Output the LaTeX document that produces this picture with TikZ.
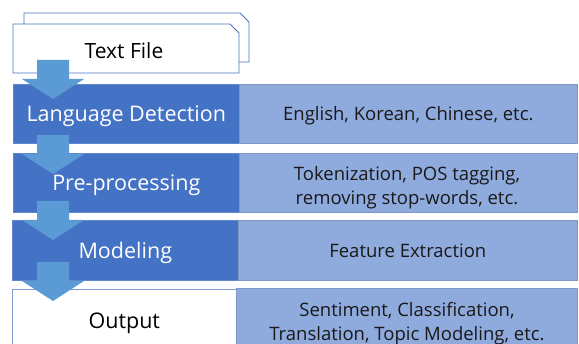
\documentclass[tikz,border=0pt]{standalone}
\usepackage{fontspec}
\setmainfont{Open Sans}
\definecolor{darkb}{HTML}{4472C4}
\definecolor{lightb}{HTML}{8FAADC}
\definecolor{lightedge}{HTML}{7E97C6}
\definecolor{arrowc}{HTML}{5B9BD5}
\definecolor{edgeb}{HTML}{4A74C0}
\tikzset{
  filebox/.style={draw=edgeb, fill=white, line width=0.9pt},
  darkbox/.style={draw=darkb!85!white, fill=darkb, line width=0.6pt, anchor=north west, inner sep=0pt, text depth=0pt, text=white, font=\fontsize{21.5}{24}\selectfont},
  whitebox/.style={draw=darkb!70!white, fill=white, line width=0.6pt, anchor=north west, inner sep=0pt, text depth=0pt, text=black, font=\fontsize{21.5}{24}\selectfont},
  lightbox/.style={draw=lightedge, fill=lightb, line width=0.6pt, anchor=north west, inner sep=0pt, text depth=0pt, text=black!90, align=center, font=\fontsize{18.5}{24}\selectfont},
  lighttext/.style={inner sep=0pt, text depth=0pt, text=black!90, align=center, font=\fontsize{18.5}{24}\selectfont},
  blockarrow/.style={fill=arrowc, draw=none},
  lbl/.style={font=\fontsize{21}{24}\selectfont, text=black}
}
\newcommand\myarrow[2]{%
  \fill[blockarrow] (#1-16,#2) -- (#1+16,#2) -- (#1+16,#2+19) -- (#1+31,#2+19) -- (#1,#2+39) -- (#1-31,#2+19) -- (#1-16,#2+19) -- cycle;}
\begin{document}
\begin{tikzpicture}[x=1pt,y=-1pt]
\useasboundingbox (0,0) rectangle (579,344);
\begin{scope}
\clip (0,0) rectangle (579,344);
% text file stack
\draw[filebox] (24,13) -- (240,13) -- (249,22) -- (249,62) -- (24,62) -- cycle;
\draw[filebox] (13,24) -- (230,24) -- (239,33) -- (239,73) -- (13,73) -- cycle;
\node[lbl] (tf) at (124,50.5) {Text File};
% rows
\node[darkbox, minimum width=226pt, minimum height=59pt] (ld) at (13,84) {Language Detection};
\node[lightbox, minimum width=338pt, minimum height=59pt] (ldr) at (239,84) {English, Korean, Chinese, etc.};
\node[darkbox, minimum width=226pt, minimum height=59pt] (pp) at (13,153) {Pre-processing};
\node[lightbox, minimum width=338pt, minimum height=59pt] (ppr) at (239,153) {};
\node[lighttext] (pprt) at (407,185) {Tokenization, POS tagging,\\removing stop-words, etc.};
\node[darkbox, minimum width=226pt, minimum height=60pt] (md) at (12,220) {Modeling};
\node[lightbox, minimum width=339pt, minimum height=60pt] (mdr) at (238,220) {Feature Extraction};
\node[whitebox, minimum width=224pt, minimum height=63pt] (op) at (12,289) {Output};
\node[lightbox, minimum width=341pt, minimum height=64pt] (opr) at (236,288) {};
\node[lighttext] (oprt) at (407,321) {Sentiment, Classification,\\Translation, Topic Modeling, etc.};
% arrows
\myarrow{53}{60}
\myarrow{53}{135}
\myarrow{53}{201}
\myarrow{53}{262}
\end{scope}
\end{tikzpicture}
\end{document}
